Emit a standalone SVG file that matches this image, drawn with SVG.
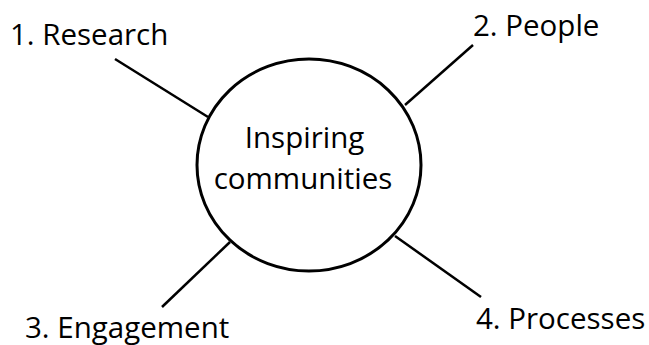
<svg xmlns="http://www.w3.org/2000/svg" width="649" height="345" viewBox="0 0 649 345">
  <style>
    .lbl { font-family: "Open Sans", "Liberation Sans", sans-serif; font-size: 29.5px; fill: #000; }
    .conn line { stroke: #000; stroke-width: 2.5; stroke-linecap: butt; }
    .hub { fill: #fff; stroke: #000; stroke-width: 3; }
  </style>
  <rect width="649" height="345" fill="#fff"/>
  <g id="connectors" class="conn">
    <line x1="115" y1="59" x2="208" y2="117"/>
    <line x1="473" y1="45" x2="405" y2="105"/>
    <line x1="230" y1="242" x2="162" y2="307"/>
    <line x1="395" y1="236" x2="481" y2="297"/>
  </g>
  <g id="hub">
    <ellipse class="hub" cx="309" cy="165" rx="112" ry="106"/>
    <text class="lbl" x="304.5" y="148" text-anchor="middle">Inspiring</text>
    <text class="lbl" x="303" y="189" text-anchor="middle">communities</text>
  </g>
  <g id="research"><text class="lbl" x="10" y="45">1. Research</text></g>
  <g id="people"><text class="lbl" x="473" y="36">2. People</text></g>
  <g id="engagement"><text class="lbl" x="25" y="338">3. Engagement</text></g>
  <g id="processes"><text class="lbl" x="476" y="329">4. Processes</text></g>
</svg>
